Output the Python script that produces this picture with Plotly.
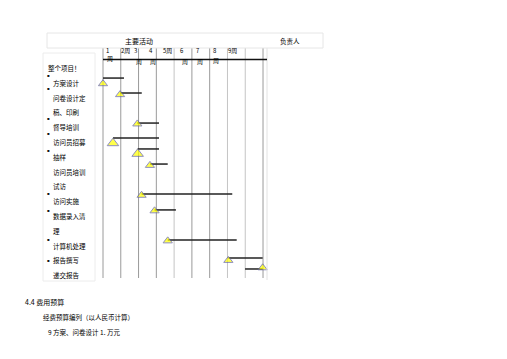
import plotly.graph_objects as go

W, H = 507, 359
OFF = 8            # page body margin in the browser
FW, FH = W - 2 * OFF, H - 2 * OFF
FONT = "Noto Sans CJK SC"

# ---------------- data ----------------
row_labels = ["整个项目！", "方案设计", "问卷设计定", "稿、印刷", "督导培训", "访问员招募",
              "抽样", "访问员培训", "试访", "访问实施", "数据录入清", "理", "计算机处理",
              "报告撰写", "递交报告"]
bullet_rows = [0.5, 1.4, 3.4, 4.4, 5.55, 8.5, 9.6, 11.6, 13.0]

tasks = ["方案设计", "问卷设计", "督导培训", "访问员招募", "抽样", "访问员培训",
         "试访", "数据录入", "计算机处理", "报告撰写", "递交报告"]
milestone_week = [0.0, 0.96, 1.93, 0.56, 1.95, 2.64, 2.17, 2.9, 3.64, 7.05, 8.98]
bar_start_week = [0.0, 0.96, 1.93, 0.56, 1.95, 2.64, 2.17, 2.9, 3.64, 7.05, 7.99]
bar_end_week = [1.18, 2.18, 3.15, 3.15, 3.15, 3.64, 7.27, 4.1, 7.52, 8.98, 8.98]
bar_row = [0.68, 1.69, 3.72, 4.73, 5.47, 6.49, 8.51, 9.59, 11.62, 12.84, 13.58]
milestone_row = [1.06, 1.8, 3.78, 5.08, 5.8, 6.58, 8.6, 9.65, 11.68, 13.0, 13.5]

week_grid = [0, 1, 2, 3, 4, 5, 6, 7, 8, 9]
week_top_labels = ["1", "2周", "3", "4", "5周", "6", "7", "8", "9周"]
week_bottom_labels = ["周", "周", "周", "周", "周", "周"]

header_main = "主要活动"
header_owner = "负责人"
footer_lines = ["4.4 费用预算", "经费预算编列（以人民币计算）", "9 方案、问卷设计 1. 万元"]

# ---------------- styles / layout helpers ----------------
PXW = 17.78        # px per week
X0 = 103 - OFF     # figure px of week 0
PXR = 14.8         # px per label row
Y0 = 68 - OFF      # figure px of row 0
marker_sizes = [8, 8, 8, 10, 10, 8, 8, 8, 8, 8, 8]


def px(x):
    return (x - OFF) / FW


def py(y):
    return 1 - (y - OFF) / FH


def wx(x):   # page px -> week units
    return (x - OFF - X0) / PXW


def ry(y):   # page px -> row units
    return (y - OFF - Y0) / PXR


fig = go.Figure()

for s, e, r in zip(bar_start_week, bar_end_week, bar_row):
    fig.add_trace(go.Scatter(x=[s, e], y=[r, r], mode="lines",
                             line=dict(color="#222222", width=1.5),
                             hoverinfo="skip", showlegend=False))

fig.add_trace(go.Scatter(x=milestone_week, y=milestone_row, mode="markers",
                         marker=dict(symbol="triangle-up", size=marker_sizes,
                                     color="#ffff00",
                                     line=dict(color="#6060a8", width=1)),
                         text=tasks, hoverinfo="text", showlegend=False))

shapes = []
grid_colors = ["#9a9a9a", "#9a9a9a", "#9a9a9a", "#9a9a9a", "#c4c4c4",
               "#9a9a9a", "#9a9a9a", "#c4c4c4", "#c4c4c4", "#9a9a9a"]
for w, c in zip(week_grid, grid_colors):
    shapes.append(dict(type="line", xref="x", yref="y", x0=w, x1=w,
                       y0=ry(48), y1=ry(278),
                       line=dict(color=c, width=1), layer="below"))
shapes.append(dict(type="line", xref="paper", yref="paper", x0=px(267), x1=px(267),
                   y0=py(48), y1=py(280), line=dict(color="#e2e2e2", width=1)))
shapes.append(dict(type="line", xref="paper", yref="paper", x0=px(103), x1=px(267),
                   y0=py(59.5), y1=py(59.5), line=dict(color="#111111", width=1.5)))
shapes.append(dict(type="rect", xref="paper", yref="paper", x0=px(47), x1=px(323),
                   y0=py(48), y1=py(33), line=dict(color="#e6e6e6", width=1)))
shapes.append(dict(type="rect", xref="paper", yref="paper", x0=px(43), x1=px(95),
                   y0=py(281), y1=py(53), line=dict(color="#ececec", width=1)))

ann = []
for i, t in enumerate(row_labels):
    xx = 46 if i == 0 else 51
    ann.append(dict(x=wx(xx), y=i, xref="x", yref="y", text=t,
                    showarrow=False, xanchor="left", yanchor="middle",
                    font=dict(family=FONT, size=6.5, color="#000000")))
for r in bullet_rows:
    ann.append(dict(x=wx(48.5), y=r, xref="x", yref="y", text="▪",
                    showarrow=False, xanchor="center", yanchor="middle",
                    font=dict(family="DejaVu Sans", size=4, color="#111111")))

ann.append(dict(x=px(139), y=py(41.5), xref="paper", yref="paper", text=header_main,
                showarrow=False, xanchor="center", yanchor="middle",
                font=dict(family=FONT, size=7, color="#000000")))
ann.append(dict(x=px(290), y=py(41.5), xref="paper", yref="paper", text=header_owner,
                showarrow=False, xanchor="center", yanchor="middle",
                font=dict(family=FONT, size=6.5, color="#000000")))

top_x = [104, 119, 132, 147, 161, 178, 194, 211, 226]
for t, xx in zip(week_top_labels, top_x):
    ann.append(dict(x=px(xx), y=py(50), xref="paper", yref="paper", text=t,
                    showarrow=False, xanchor="left", yanchor="middle",
                    font=dict(family=FONT, size=6, color="#000000")))
bot_pos = [(105, 58), (134, 61.5), (148, 61.5), (180, 61.5), (195, 61.5), (211, 60.5)]
for t, (xx, yy) in zip(week_bottom_labels, bot_pos):
    ann.append(dict(x=px(xx), y=py(yy), xref="paper", yref="paper", text=t,
                    showarrow=False, xanchor="left", yanchor="middle",
                    font=dict(family=FONT, size=6, color="#000000")))

foot_pos = [(23, 302, 7), (41, 317, 6.5), (46, 332, 6.5)]
for t, (xx, yy, fs) in zip(footer_lines, foot_pos):
    ann.append(dict(x=px(xx), y=py(yy), xref="paper", yref="paper", text=t,
                    showarrow=False, xanchor="left", yanchor="middle",
                    font=dict(family=FONT, size=fs, color="#000000")))

fig.update_layout(
    width=FW, height=FH,
    margin=dict(l=0, r=0, t=0, b=0),
    paper_bgcolor="white", plot_bgcolor="white",
    xaxis=dict(range=[-X0 / PXW, (FW - X0) / PXW], visible=False, fixedrange=True),
    yaxis=dict(range=[(FH - Y0) / PXR, -Y0 / PXR], visible=False, fixedrange=True),
    shapes=shapes, annotations=ann, showlegend=False,
)

fig.write_html("out.html")
